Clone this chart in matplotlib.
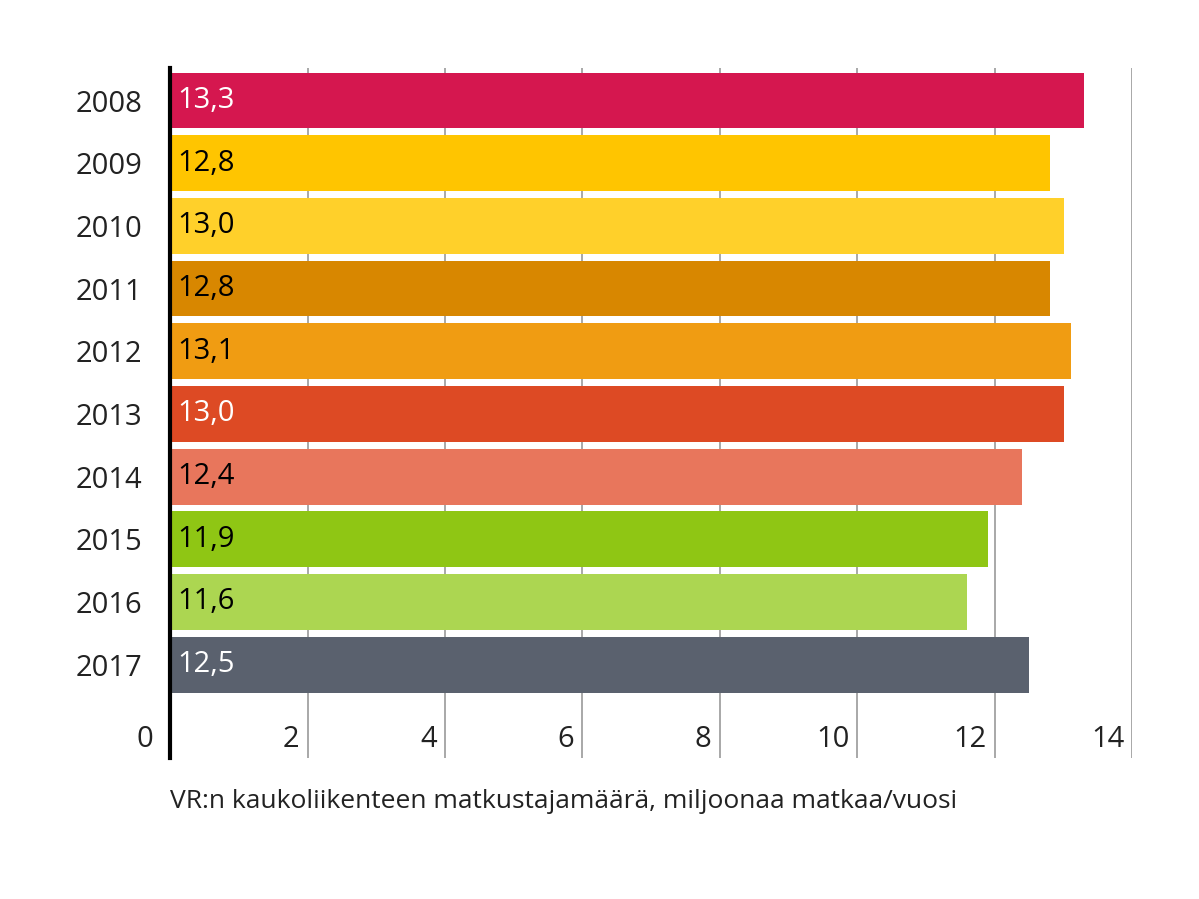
import matplotlib
matplotlib.use("Agg")
import matplotlib.pyplot as plt

years = ["2008", "2009", "2010", "2011", "2012", "2013", "2014", "2015", "2016", "2017"]
values = [13.3, 12.8, 13.0, 12.8, 13.1, 13.0, 12.4, 11.9, 11.6, 12.5]
colors = ["#d5174f", "#ffc500", "#ffd02a", "#d88700", "#f09c12",
          "#dd4a24", "#e8765c", "#8fc614", "#acd651", "#5a616e"]
label_colors = ["white", "black", "black", "black", "black",
                "white", "black", "black", "black", "white"]
xticks = [0, 2, 4, 6, 8, 10, 12, 14]

plt.rcParams["font.family"] = "Open Sans"

fig = plt.figure(figsize=(11.99, 8.99), dpi=100)
ax = fig.add_axes([0.1418, 0.1568, 0.8027, 0.7676])

pos = list(range(len(years)))
ax.barh(pos, values, height=0.89, color=colors, zorder=2)
for i, v in enumerate(values):
    ax.text(0.1, i, f"{v:.1f}".replace(".", ","), va="center", ha="left",
            fontsize=21, color=label_colors[i], zorder=3)

for t in xticks[1:]:
    ax.axvline(t, color="#999999", lw=1.2, zorder=1)
for t in xticks:
    ax.text(t - 0.12 if t else -0.25, 10.2, str(t), ha="right", va="center",
            fontsize=21, color="#222222")

ax.set_xlim(0, 14)
ax.set_ylim(10.49, -0.52)
ax.set_yticks(pos)
ax.set_yticklabels(years, fontsize=21, color="#222222")
ax.tick_params(axis="y", length=0, pad=20)
ax.set_xticks([])
for s in ["top", "right", "bottom"]:
    ax.spines[s].set_visible(False)
ax.spines["left"].set_linewidth(3)
ax.spines["left"].set_color("black")

fig.text(0.1418, 0.108, "VR:n kaukoliikenteen matkustajamäärä, miljoonaa matkaa/vuosi",
         fontsize=19, color="#222222", va="center", ha="left")

fig.savefig("out.png", dpi=100)
